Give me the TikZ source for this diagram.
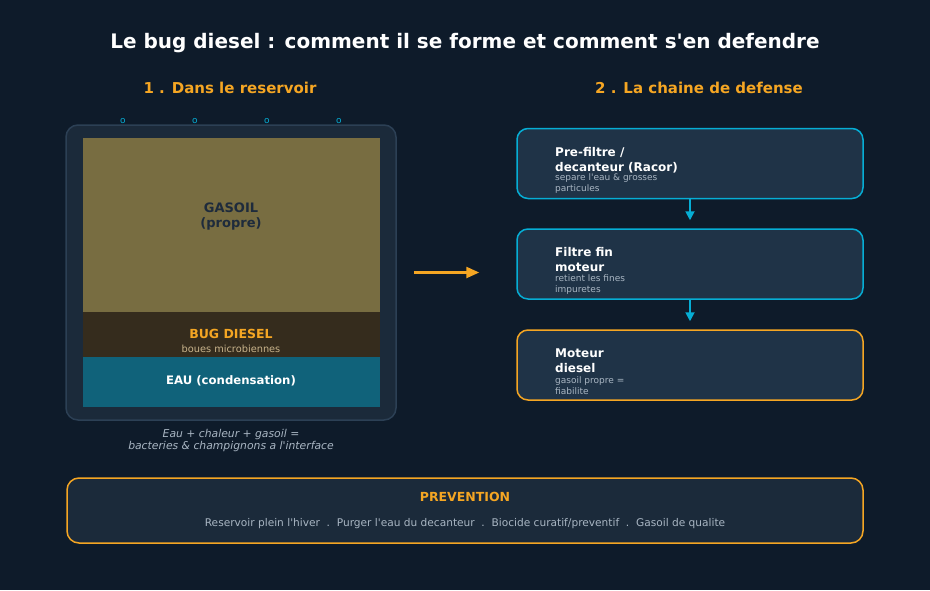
\documentclass[tikz,border=0pt]{standalone}
\usepackage{fontspec}
\setmainfont{DejaVu Sans}
\usetikzlibrary{arrows.meta,positioning}
\definecolor{bgc}{HTML}{0E1B2A}
\definecolor{panelc}{HTML}{1B2A3A}
\definecolor{boxc}{HTML}{1F3347}
\definecolor{edgec}{HTML}{2C4055}
\definecolor{cyanc}{HTML}{06AED5}
\definecolor{orc}{HTML}{F5A623}
\definecolor{oilc}{HTML}{786D41}
\definecolor{bugc}{HTML}{352C1D}
\definecolor{waterc}{HTML}{10627A}
\definecolor{greyc}{HTML}{A9B6C3}
\definecolor{tanc}{HTML}{C9B48C}
\definecolor{inkc}{HTML}{1E2B3C}
\newcommand\fz[2]{\fontsize{#1}{#2}\selectfont}
\newcommand\apo{\textquotesingle}
\tikzset{
  ar/.style={-{Triangle[length=9,width=9]},line width=1.8,cyanc,shorten >=8},
  orar/.style={-{Triangle[length=13,width=11]},line width=2.4,orc},
  stepbox/.style={draw=#1,line width=1.5,rounded corners=11,fill=boxc,minimum width=346,minimum height=70,inner sep=0},
  layer/.style={minimum width=297,inner sep=0,outer sep=0},
  sect/.style={text=orc,font=\bfseries\fz{15}{18}},
  ttl/.style={anchor=west,align=left,inner xsep=0,text=white,font=\bfseries\fz{12}{15}},
  sub/.style={anchor=west,align=left,inner xsep=0,text=greyc,font=\fz{9}{11}}
}
\begin{document}
\begin{tikzpicture}[x=1pt,y=-1pt]
\fill[bgc] (0,0) rectangle (930,590);
\node[text=white,font=\bfseries\fz{20}{24}] (title) at (465,43) {Le bug diesel : comment il se forme et comment s\apo en defendre};
\node[sect] (sec1) at (230,88) {1 . Dans le reservoir};
\node[sect] (sec2) at (699,88) {2 . La chaine de defense};
% reservoir
\node[draw=edgec,line width=1.5,fill=panelc,rounded corners=12,minimum width=330,minimum height=295,inner sep=0] (tank) at (231,272.5) {};
\foreach \x in {123,195,267,339}
  \node[text=cyanc,font=\fz{9}{10}] (o\x) at (\x,121) {o};
\node[layer,fill=oilc,minimum height=174] (gasoil) at (231.5,225) {};
\node[layer,fill=bugc,minimum height=45,below=0pt of gasoil] (bug) {};
\node[layer,fill=waterc,minimum height=50,below=0pt of bug] (eau) {};
\node[text=inkc,align=center,font=\bfseries\fz{13}{15}] (gasoiltxt) at (231,217) {GASOIL\\(propre)};
\node[text=orc,font=\bfseries\fz{12.5}{14}] (bugtxt) at (231,334) {BUG DIESEL};
\node[text=tanc,font=\fz{9.8}{11}] (bugsub) at (231,349) {boues microbiennes};
\node[text=white,font=\bfseries\fz{11.7}{13}] (eautxt) at (231,381) {EAU (condensation)};
\node[text=greyc,align=center,font=\itshape\fz{10.8}{11.5}] (cause) at (231,440.5) {Eau + chaleur + gasoil =\\bacteries \& champignons a l\apo interface};
% chaine de defense
\node[stepbox=cyanc] (flt1) at (690,163.5) {};
\node[stepbox=cyanc] (flt2) at (690,264) {};
\node[stepbox=orc] (flt3) at (690,365) {};
\node[ttl] (t1) at (555,160.5) {Pre-filtre /\\decanteur (Racor)};
\node[sub] (s1) at (555,183.5) {separe l\apo eau \& grosses\\particules};
\node[ttl] (t2) at (555,260) {Filtre fin\\moteur};
\node[sub] (s2) at (555,284.5) {retient les fines\\impuretes};
\node[ttl] (t3) at (555,361) {Moteur\\diesel};
\node[sub] (s3) at (555,385.5) {gasoil propre =\\fiabilite};
\draw[ar] (flt1) -- (flt2);
\draw[ar] (flt2) -- (flt3);
\draw[orar,shorten <=17,shorten >=37] (tank.east) -- (tank.east -| flt2.west);
% prevention
\node[draw=orc,line width=1.5,fill=panelc,rounded corners=12,minimum width=796,minimum height=65,inner sep=0] (prev) at (465,510.5) {};
\node[text=orc,font=\bfseries\fz{12.5}{14}] (prevttl) at (465,497) {PREVENTION};
\node[text=greyc,font=\fz{10.6}{12}] (prevtxt) at (465,524) {Reservoir plein l\apo hiver~~.~~Purger l\apo eau du decanteur~~.~~Biocide curatif/preventif~~.~~Gasoil de qualite};
\end{tikzpicture}
\end{document}
